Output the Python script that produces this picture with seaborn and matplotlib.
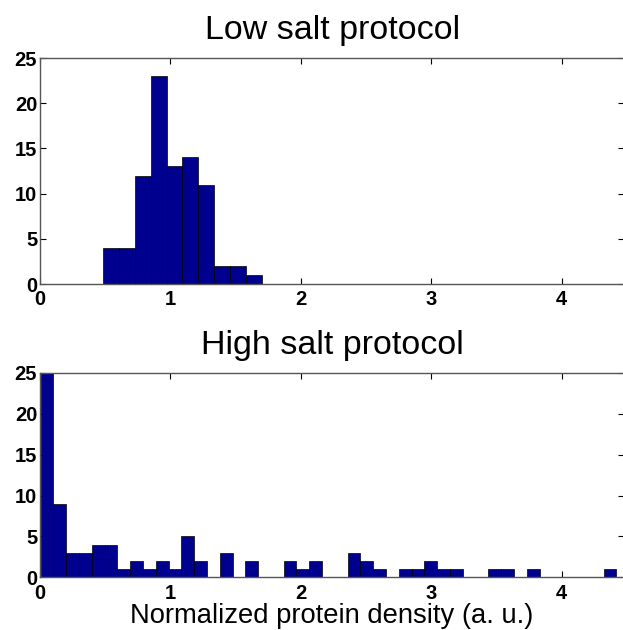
import numpy as np
import pandas as pd
import matplotlib
matplotlib.use('Agg')
import matplotlib.pyplot as plt
import seaborn as sns

# low salt protocol histogram (10 bins)
low_start = 0.485
low_width = 0.1214
low_counts = [4, 4, 12, 23, 13, 14, 11, 2, 2, 1]

# high salt protocol histogram (45 bins)
high_start = 0.005
high_width = 0.0981
high_counts = [25, 9, 3, 3, 4, 4, 1, 2, 1, 2, 1, 5, 2, 0, 3, 0, 2, 0, 0, 2,
               1, 2, 0, 0, 3, 2, 1, 0, 1, 1, 2, 1, 1, 0, 0, 1, 1, 0, 1, 0,
               0, 0, 0, 0, 1]

titles = ['Low salt protocol', 'High salt protocol']
xlabel = 'Normalized protein density (a. u.)'
xticks = [0, 1, 2, 3, 4]
yticks = [0, 5, 10, 15, 20, 25]

sns.set_style('ticks')
plt.rcParams['font.family'] = ['Liberation Sans', 'DejaVu Sans']
plt.rcParams['text.color'] = 'black'
plt.rcParams['axes.labelcolor'] = 'black'

fig = plt.figure(figsize=(6.23, 6.3), dpi=100)
ax1 = fig.add_axes([0.0642, 0.5492, 0.9377, 0.3587])
ax2 = fig.add_axes([0.0642, 0.0837, 0.9377, 0.3243])

bar_color = '#00008F'

for ax, start, width, counts, title in [(ax1, low_start, low_width, low_counts, titles[0]),
                                        (ax2, high_start, high_width, high_counts, titles[1])]:
    n = len(counts)
    df = pd.DataFrame({'x': start + width * (np.arange(n) + 0.5), 'w': counts})
    sns.histplot(data=df, x='x', weights='w', binwidth=width,
                 binrange=(start, start + n * width), ax=ax, color=bar_color,
                 edgecolor='black', linewidth=0.5, alpha=1)
    ax.set_xlim(0, 4.48)
    ax.set_ylim(0, 25)
    ax.set_xticks(xticks)
    ax.set_yticks(yticks)
    ax.set_ylabel('')
    ax.set_xlabel('')
    ax.set_title(title, fontsize=24.5, pad=13.5, color='black')
    ax.tick_params(direction='in', length=4, width=0.8, top=True, right=True,
                   labelsize=14.5, colors='black')
    ax.tick_params(axis='x', pad=4.5)
    ax.tick_params(axis='y', pad=2)
    for lab in ax.get_xticklabels() + ax.get_yticklabels():
        lab.set_fontweight('bold')
    for s in ax.spines.values():
        s.set_color('#555555')
        s.set_linewidth(1)

ax2.set_xlabel(xlabel, fontsize=19.7, labelpad=0, color='black')

fig.savefig('out.png', dpi=100)
